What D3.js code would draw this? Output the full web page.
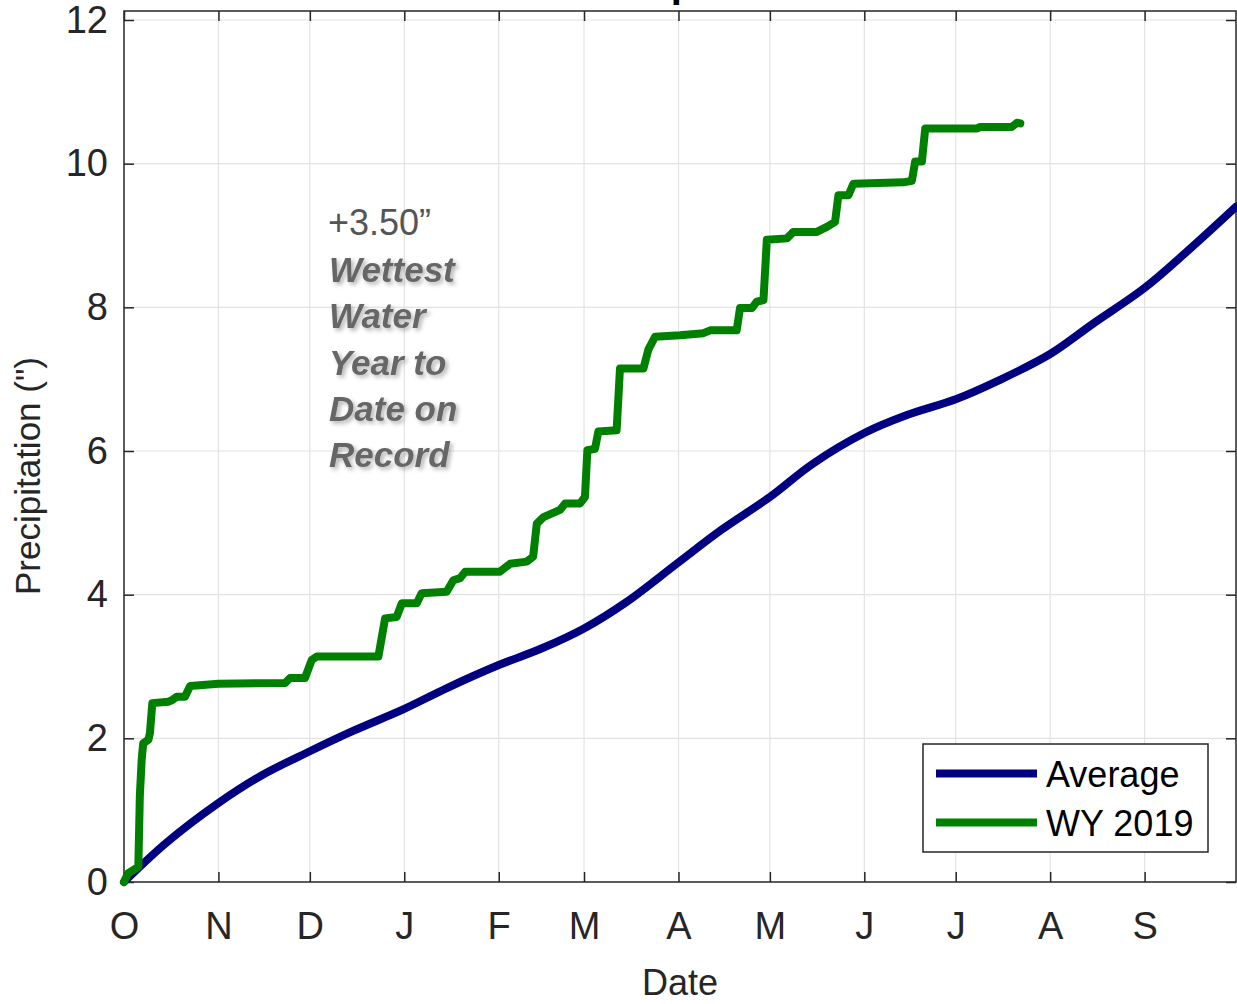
<!DOCTYPE html>
<html>
<head>
<meta charset="utf-8">
<script src="https://cdn.jsdelivr.net/npm/d3@7"></script>
<style>
  html, body { margin: 0; padding: 0; background: #fff; }
  svg { display: block; font-family: "Liberation Sans", Arial, Helvetica, sans-serif; }
</style>
</head>
<body>
<svg id="chart" width="1237" height="1004"></svg>
<script>
// ---- data ----
const waterYearStart = "2018-10-01";
const monthLabels = ["O", "N", "D", "J", "F", "M", "A", "M", "J", "J", "A", "S"];
const yTicks = [0, 2, 4, 6, 8, 10, 12];

// Average: day of water year, cumulative inches
const avgDays   = [0, 14, 31, 45, 61, 75, 92, 106, 123, 137, 151, 165, 182, 196, 212, 226, 243, 257, 273, 287, 304, 318, 335, 349, 365];
const avgValues = [0, 0.55, 1.10, 1.48, 1.82, 2.10, 2.41, 2.70, 3.02, 3.25, 3.53, 3.90, 4.45, 4.90, 5.36, 5.82, 6.25, 6.50, 6.72, 6.98, 7.35, 7.77, 8.27, 8.78, 9.40];

// WY 2019: day of water year, cumulative inches
const wyDays = [0, 1.3, 4.7, 5.2, 5.8, 6.3, 8.0, 8.5, 9.3, 14.5, 15.7, 17.3, 20.0, 21.7, 31, 52.9, 54.5, 59.4, 61.6, 63.3,
  83.5, 85.7, 89.5, 91.2, 96.1, 97.7, 105.9, 108.1, 110.3, 112, 123.4, 126.7, 132.2, 134.3, 135.5, 137.7, 143.1, 144.8,
  149.7, 151.3, 152.1, 154.6, 155.7, 161.7, 162.8, 170.5, 172.1, 174.3, 182.5, 190.2, 192.4, 201.1, 202.2, 206.1, 207.7,
  209.9, 211, 217.6, 219.7, 227.4, 230.7, 233.4, 234.5, 237.8, 239.4, 255.8, 258.6, 259.7, 261.9, 263, 279.9, 281, 291.4,
  293.1, 294.2];
const wyValues = [0, 0.12, 0.21, 1.2, 1.70, 1.93, 1.98, 2.07, 2.49, 2.51, 2.53, 2.58, 2.58, 2.73, 2.76, 2.77, 2.84, 2.84, 3.09, 3.14,
  3.14, 3.67, 3.69, 3.88, 3.88, 4.02, 4.04, 4.20, 4.23, 4.32, 4.32, 4.43, 4.46, 4.53, 4.99, 5.08, 5.18, 5.27,
  5.27, 5.36, 6.01, 6.03, 6.27, 6.29, 7.15, 7.15, 7.41, 7.59, 7.61, 7.64, 7.68, 7.68, 7.99, 7.99, 8.08,
  8.10, 8.94, 8.96, 9.05, 9.05, 9.12, 9.19, 9.56, 9.56, 9.72, 9.74, 9.76, 10.03, 10.03, 10.49, 10.49, 10.51, 10.51,
  10.57, 10.56];

const seriesNames = ["Average", "WY 2019"];
const seriesColors = ["#000080", "#008000"];
const annotationLines = ["Wettest", "Water", "Year to", "Date on", "Record"];
const annotationHead = "+3.50\u201D";

// ---- layout ----
const L = 124, R = 1236, T = 11, B = 882;
const textColor = "#262626";
const svg = d3.select("#chart");

const start = d3.isoParse(waterYearStart + "T00:00:00Z");
const toDate = d => new Date(start.getTime() + d * 86400000);
const x = d3.scaleUtc().domain([start, toDate(365)]).range([L, R]);
const y = d3.scaleLinear().domain([0, (B - T) / ((B - 20) / 12)]).range([B, T]);

const monthStarts = d3.utcMonth.range(start, toDate(365));

// grid
const grid = svg.append("g").attr("stroke", "#e3e3e3").attr("stroke-width", 1.2);
grid.selectAll("line.v").data(monthStarts.slice(1)).join("line")
  .attr("x1", d => x(d)).attr("x2", d => x(d)).attr("y1", T).attr("y2", B);
grid.selectAll("line.h").data(yTicks.slice(1)).join("line")
  .attr("x1", L).attr("x2", R).attr("y1", d => y(d)).attr("y2", d => y(d));

// axes (inward ticks)
const xb = svg.append("g").attr("transform", `translate(0,${B})`)
  .call(d3.axisBottom(x).tickValues(monthStarts).tickSize(-10).tickPadding(30)
    .tickFormat((d, i) => monthLabels[i]));
const xt = svg.append("g").attr("transform", `translate(0,${T})`)
  .call(d3.axisTop(x).tickValues(monthStarts).tickSize(-10).tickFormat(""));
const yl = svg.append("g").attr("transform", `translate(${L},0)`)
  .call(d3.axisLeft(y).tickValues(yTicks).tickSize(-10).tickPadding(16).tickFormat(d3.format("d")));
const yr = svg.append("g").attr("transform", `translate(${R},0)`)
  .call(d3.axisRight(y).tickValues(yTicks).tickSize(-10).tickFormat(""));
[xb, xt, yl, yr].forEach(g => {
  g.select(".domain").remove();
  g.selectAll("line").attr("stroke", textColor).attr("stroke-width", 1.5);
  g.selectAll("text").attr("fill", textColor).attr("font-size", 38)
    .attr("font-family", "'Liberation Sans', Arial, sans-serif");
});
xb.selectAll("text").attr("dy", "0.71em");
svg.append("rect").attr("x", L).attr("y", T).attr("width", R - L).attr("height", B - T)
  .attr("fill", "none").attr("stroke", textColor).attr("stroke-width", 1.5);

// lines
svg.append("path")
  .datum(avgDays.map((d, i) => [d, avgValues[i]]))
  .attr("d", d3.line().x(d => x(toDate(d[0]))).y(d => y(d[1])).curve(d3.curveCatmullRom.alpha(0.5)))
  .attr("fill", "none").attr("stroke", seriesColors[0]).attr("stroke-width", 8)
  .attr("stroke-linejoin", "round").attr("stroke-linecap", "round");
svg.append("path")
  .datum(wyDays.map((d, i) => [d, wyValues[i]]))
  .attr("d", d3.line().x(d => x(toDate(d[0]))).y(d => y(d[1])))
  .attr("fill", "none").attr("stroke", seriesColors[1]).attr("stroke-width", 8)
  .attr("stroke-linejoin", "round").attr("stroke-linecap", "round");

// labels
svg.append("text").attr("x", (L + R) / 2).attr("y", 995).attr("text-anchor", "middle")
  .attr("font-size", 36).attr("fill", textColor).text("Date");
svg.append("text").attr("transform", "translate(40,476) rotate(-90)").attr("text-anchor", "middle")
  .attr("font-size", 35).attr("fill", textColor).text("Precipitation (\")");
svg.append("text").attr("x", 694).attr("y", -3.5).attr("text-anchor", "middle")
  .attr("font-size", 40).attr("font-weight", "bold").attr("fill", "#000").text("Precipitation");

// annotation
const defs = svg.append("defs");
const f = defs.append("filter").attr("id", "shadow").attr("x", "-10%").attr("y", "-20%").attr("width", "130%").attr("height", "150%");
f.append("feDropShadow").attr("dx", 2.5).attr("dy", 2.5).attr("stdDeviation", 2)
  .attr("flood-color", "#000").attr("flood-opacity", 0.3);
svg.append("text").attr("x", 328).attr("y", 235).attr("font-size", 36).attr("fill", "#555")
  .text(annotationHead);
svg.append("g").attr("filter", "url(#shadow)")
  .selectAll("text").data(annotationLines).join("text")
  .attr("x", 329).attr("y", (d, i) => 282 + i * 46.3)
  .attr("font-size", 35).attr("font-weight", "bold").attr("font-style", "italic")
  .attr("fill", "#666").text(d => d);

// legend
const lg = svg.append("g");
lg.append("rect").attr("x", 923).attr("y", 744).attr("width", 285).attr("height", 108)
  .attr("fill", "#fff").attr("stroke", textColor).attr("stroke-width", 1.5);
seriesNames.forEach((name, i) => {
  const yy = 773.5 + i * 49;
  lg.append("line").attr("x1", 936).attr("x2", 1037).attr("y1", yy).attr("y2", yy)
    .attr("stroke", seriesColors[i]).attr("stroke-width", 8);
  lg.append("text").attr("x", 1046).attr("y", yy + 13.5).attr("font-size", 36)
    .attr("fill", "#000").text(name);
});
</script>
</body>
</html>
